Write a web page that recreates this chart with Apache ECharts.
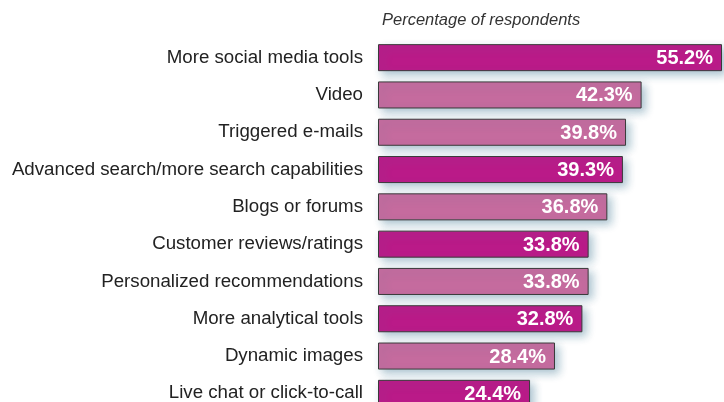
<!DOCTYPE html>
<html>
<head>
<meta charset="utf-8">
<script src="https://cdn.jsdelivr.net/npm/echarts@6/dist/echarts.min.js"></script>
<style>
  html, body { margin: 0; padding: 0; background: #fff; overflow: hidden; }
  /* the last row runs past the bottom edge of the view, so the canvas is taller */
  #chart { width: 724px; height: 430px; }
</style>
</head>
<body>
<div id="chart"></div>
<script>
// Features respondents want, ranked top to bottom
const categories = [
  'More social media tools',
  'Video',
  'Triggered e-mails',
  'Advanced search/more search capabilities',
  'Blogs or forums',
  'Customer reviews/ratings',
  'Personalized recommendations',
  'More analytical tools',
  'Dynamic images',
  'Live chat or click-to-call'
];
const values = [55.2, 42.3, 39.8, 39.3, 36.8, 33.8, 33.8, 32.8, 28.4, 24.4];
// true = strong magenta, false = soft pink
const strongShade = [true, false, false, true, false, true, false, true, false, true];

const STRONG = '#BA1A88';
const SOFT = '#C56B9E';
const FONT = '"Liberation Sans", Arial, Helvetica, sans-serif';

const chart = echarts.init(document.getElementById('chart'), null, { renderer: 'canvas' });

chart.setOption({
  animation: false,
  title: {
    text: 'Percentage of respondents',
    left: 377,
    top: 7,
    textStyle: {
      fontFamily: FONT,
      fontStyle: 'italic',
      fontWeight: 'normal',
      fontSize: 16.5,
      color: '#333'
    }
  },
  grid: { left: 378, top: 39, width: 344, height: 373, containLabel: false },
  xAxis: {
    type: 'value',
    min: 0,
    max: 55.2,
    show: false
  },
  yAxis: {
    type: 'category',
    inverse: true,
    data: categories,
    axisLine: { show: false },
    axisTick: { show: false },
    axisLabel: {
      margin: 15,
      fontFamily: FONT,
      fontSize: 18.7,
      color: '#222'
    }
  },
  series: [{
    type: 'bar',
    barCategoryGap: '27.5%',
    data: values.map((v, i) => ({
      value: v,
      itemStyle: { color: strongShade[i] ? STRONG : SOFT }
    })),
    itemStyle: {
      borderColor: '#3a3a3a',
      borderWidth: 1,
      shadowColor: 'rgba(70, 125, 150, 0.45)',
      shadowBlur: 9,
      shadowOffsetX: 4,
      shadowOffsetY: 4
    },
    label: {
      show: true,
      position: 'insideRight',
      distance: 9,
      offset: [0, 1],
      formatter: p => p.value.toFixed(1) + '%',
      fontFamily: FONT,
      fontWeight: 'bold',
      fontSize: 20,
      color: '#fff'
    }
  }]
});
</script>
</body>
</html>
